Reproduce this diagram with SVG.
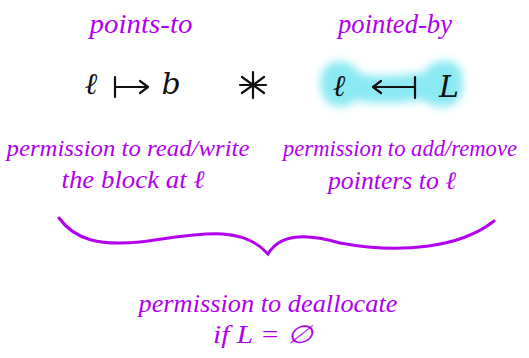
<svg xmlns="http://www.w3.org/2000/svg" width="529" height="358" viewBox="0 0 529 358">
<style>
.p{fill:#b100ee;font-family:"Liberation Serif","DejaVu Serif",serif;font-style:italic}
.m{fill:#111;font-family:"DejaVu Serif","Liberation Serif",serif;font-style:italic}
.ln{stroke:#111;stroke-width:2.2;fill:none;stroke-linecap:round;stroke-linejoin:round}
</style>
<defs>
<filter id="blur" x="-20%" y="-50%" width="140%" height="200%"><feGaussianBlur stdDeviation="4.5"/></filter>
</defs>
<rect width="529" height="358" fill="#fff"/>
<g id="points-to"><text class="p" x="141" y="33" font-size="27" text-anchor="middle" textLength="103" lengthAdjust="spacingAndGlyphs">points-to</text></g>
<g id="pointed-by"><text class="p" x="395" y="33" font-size="27" text-anchor="middle" textLength="114" lengthAdjust="spacingAndGlyphs">pointed-by</text></g>
<g id="points-to-formula">
<text class="m" x="91" y="94" font-size="30" text-anchor="middle">ℓ</text>
<path class="ln" d="M115,77 L115,97 M115,87 L147,87 M140,81 L148,87 L140,93"/>
<text class="m" x="171" y="94" font-size="30" text-anchor="middle">b</text>
</g>
<g id="star"><path class="ln" d="M253,72 L253,98 M242,77 L264,93 M242,93 L264,77 M240,85 L266,85" stroke-width="1.8"/></g>
<g id="pointed-by-formula">
<path d="M326,66 C336,58 352,60 358,72 C370,78 400,76 425,72 C430,60 452,56 460,68 C466,84 464,100 450,106 C436,110 428,102 420,100 C400,104 370,104 356,100 C348,110 330,108 324,98 C318,86 320,74 326,66 Z" fill="#8be9f3" filter="url(#blur)"/>
<text class="m" x="339" y="96" font-size="30" text-anchor="middle">ℓ</text>
<path class="ln" d="M374,87 L414,87 M415,77 L415,98 M381,81 L373,87 L381,93"/>
<text class="m" x="449" y="97" font-size="30" text-anchor="middle" font-style="normal">L</text>
</g>
<g id="read-write">
<text class="p" x="128" y="156" font-size="24" text-anchor="middle" textLength="243" lengthAdjust="spacingAndGlyphs">permission to read/write</text>
<text class="p" x="133" y="188" font-size="25" text-anchor="middle" textLength="143" lengthAdjust="spacingAndGlyphs">the block at ℓ</text>
</g>
<g id="add-remove">
<text class="p" x="400" y="156" font-size="23" text-anchor="middle" textLength="234" lengthAdjust="spacingAndGlyphs">permission to add/remove</text>
<text class="p" x="392" y="189" font-size="25" text-anchor="middle" textLength="128" lengthAdjust="spacingAndGlyphs">pointers to ℓ</text>
</g>
<g id="connectors">
<path d="M59,218 C75,240 100,246 140,242 C190,236 240,222 268,254 C280,234 305,233 340,243 C400,254 460,248 494,221" fill="none" stroke="#b100ee" stroke-width="3" stroke-linecap="round"/>
</g>
<g id="deallocate">
<text class="p" x="268" y="312" font-size="25" text-anchor="middle" textLength="259" lengthAdjust="spacingAndGlyphs">permission to deallocate</text>
<text class="p" x="263" y="343" font-size="25" text-anchor="middle" textLength="100" lengthAdjust="spacingAndGlyphs">if L = ∅</text>
</g>
</svg>
